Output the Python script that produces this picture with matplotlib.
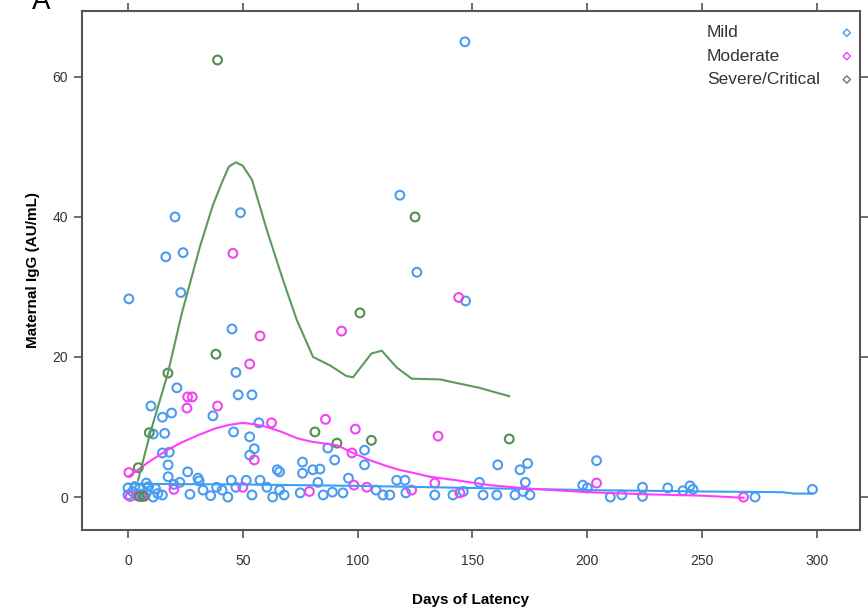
import matplotlib
matplotlib.use("Agg")
import matplotlib.pyplot as plt

plt.rcParams['font.family'] = ['Liberation Sans', 'DejaVu Sans']

# ---------------- data ----------------
groups = ["Mild", "Moderate", "Severe/Critical"]

mild_x = [0.4, 16.5, 20.5, 24, 23, 49, 45.3, 47, 48, 54, 118.4, 125.8, 146.7, 147,
          21.3, 10, 15, 19, 16, 11, 37, 46, 53, 57, 55, 53, 15, 18, 17.5, 17.5, 26, 30.5,
          65, 66, 76, 76, 80.5, 83.6, 87, 90, 103, 103, 96, 117, 120.6, 153, 161, 170.7,
          174, 173, 204,
          0, 0, 2, 3, 4, 8, 8, 11, 12, 15, 20, 22.6, 31, 32.7, 38.6, 43.5, 45, 47, 51.5,
          54, 57.5, 60.5, 63, 66, 68, 75, 82.7, 85, 89, 93.6, 108, 111, 114, 121, 133.6,
          141.5, 146, 154.6, 160.6, 168.5, 172, 175, 198, 200, 210, 215, 224, 224, 235,
          241.6, 244.7, 246, 273, 298, 5, 6, 9, 13, 27, 36, 41]
mild_y = [28.3, 34.3, 40, 34.9, 29.2, 40.6, 24, 17.8, 14.6, 14.6, 43.1, 32.1, 65, 28,
          15.6, 13, 11.4, 12, 9.1, 9, 11.6, 9.3, 8.6, 10.6, 6.9, 6, 6.3, 6.4, 4.6, 2.9, 3.6, 2.7,
          3.9, 3.6, 5, 3.4, 3.9, 4, 7, 5.3, 6.7, 4.6, 2.7, 2.4, 2.4, 2.1, 4.6, 3.9,
          4.8, 2.1, 5.2,
          1.3, 0.3, 0.8, 1.5, 0.2, 2, 0.6, 0, 1.2, 0.3, 1.8, 2.1, 2.3, 1, 1.4, 0, 2.4, 1.4, 2.4,
          0.3, 2.4, 1.4, 0, 1, 0.3, 0.6, 2.1, 0.3, 0.7, 0.6, 1, 0.3, 0.3, 0.6, 0.3,
          0.3, 0.8, 0.3, 0.3, 0.3, 0.8, 0.3, 1.7, 1.3, 0, 0.3, 1.4, 0.1, 1.3,
          0.9, 1.6, 1.1, 0, 1.1, 1.2, 0.4, 1.5, 0.5, 0.4, 0.2, 1.0]

mod_x = [45.7, 144, 57.5, 53, 93, 26, 28, 25.7, 39, 62.5, 86, 99, 135, 55, 97.5, 0.4,
         98.4, 104, 79, 50, 20, 1, 6, 123.5, 133.6, 144.5, 204, 268]
mod_y = [34.8, 28.5, 23, 19, 23.7, 14.3, 14.3, 12.7, 13, 10.6, 11.1, 9.7, 8.7, 5.3, 6.3, 3.5,
         1.7, 1.4, 0.8, 1.4, 1.1, 0.1, 0.1, 1, 2, 0.6, 2, 0]

sev_x = [39, 38.3, 17.4, 9.3, 4.5, 101, 81.4, 91, 106, 125, 166, 5, 7]
sev_y = [62.4, 20.4, 17.7, 9.2, 4.2, 26.3, 9.3, 7.7, 8.1, 40, 8.3, 0.1, 0.1]

# smoothed (loess) curves
mild_fit_x = [0, 50, 100, 150, 200, 250, 285, 290, 298]
mild_fit_y = [1.9, 1.8, 1.6, 1.3, 1.0, 0.8, 0.7, 0.5, 0.5]

mod_fit_x = [0.5, 9, 17, 24, 31, 38, 44, 50, 55, 60.5, 67, 73.6, 80, 91, 98, 105, 112, 118,
             125, 131.5, 143, 157.6, 175, 200, 225, 250, 268]
mod_fit_y = [3.0, 5.0, 6.7, 7.9, 8.9, 9.8, 10.3, 10.6, 10.4, 10.0, 9.3, 8.4, 7.9, 7.4, 6.3,
             5.3, 4.5, 3.9, 3.4, 2.9, 2.4, 1.7, 1.2, 0.7, 0.4, 0.2, -0.1]

sev_fit_x = [4.4, 10, 17.4, 23.5, 31.3, 37, 41.4, 44, 47, 50, 54, 60.5, 67.5, 73.5, 80.6, 88,
             95, 98, 102, 106, 110.5, 117, 123.6, 136, 140, 153, 166]
sev_fit_y = [2.4, 9.5, 17.7, 26.3, 35.7, 41.7, 45.3, 47.2, 47.8, 47.3, 45.3, 38.1, 31, 25.3,
             20, 18.8, 17.3, 17.1, 18.8, 20.5, 20.9, 18.5, 16.9, 16.8, 16.5, 15.6, 14.4]

x_ticks = [0, 50, 100, 150, 200, 250, 300]
y_ticks = [0, 20, 40, 60]

point_colors = ["#4a9cf2", "#f045f0", "#4f8f4f"]
line_colors = ["#3aa0f5", "#ff3cff", "#5c9a5c"]

# ---------------- figure ----------------
fig = plt.figure(figsize=(8.68, 6.10), dpi=100)
ax = fig.add_axes([82 / 868, 1 - 530 / 610, 778 / 868, 519 / 610])

series = [(mild_x, mild_y, mild_fit_x, mild_fit_y),
          (mod_x, mod_y, mod_fit_x, mod_fit_y),
          (sev_x, sev_y, sev_fit_x, sev_fit_y)]

for (px, py, fx, fy), pc, lc in zip(series, point_colors, line_colors):
    ax.scatter(px, py, s=40, facecolors="none", edgecolors=pc, linewidths=1.5, zorder=3)
for (px, py, fx, fy), pc, lc in zip(series, point_colors, line_colors):
    ax.plot(fx, fy, color=lc, lw=1.5, zorder=4)

ax.set_xlim(-20, 318.7)
ax.set_ylim(-4.7, 69.4)
ax.set_xticks(x_ticks)
ax.set_yticks(y_ticks)
ax.tick_params(axis="both", which="both", direction="out", length=6, width=1.2,
               color="#555555", labelcolor="#333333", labelsize=10,
               top=True, right=True, labeltop=False, labelright=False)
ax.tick_params(axis="x", pad=11)
ax.tick_params(axis="y", pad=4)
for sp in ax.spines.values():
    sp.set_color("#555555")
    sp.set_linewidth(1.5)

ax.set_xlabel("Days of Latency", fontsize=11, fontweight="bold", labelpad=18)
ax.set_ylabel("Maternal IgG (AU/mL)", fontsize=11, fontweight="bold")
ax.yaxis.set_label_coords(-0.054, 0.5)

# legend (lattice-style key: text then symbol)
key_y = [0.958, 0.913, 0.868]
for g, pc, ky in zip(groups, point_colors, key_y):
    ax.text(0.803, ky, g, transform=ax.transAxes, fontsize=12.5, color="#333333",
            va="center", ha="left")
    ax.scatter([0.983], [ky], marker="D", s=14, facecolors="none", edgecolors=pc,
               linewidths=1.0, transform=ax.transAxes, zorder=5, clip_on=False)

fig.text(0.037, 0.986, "A", fontsize=20, color="black", ha="left", va="baseline")

fig.savefig("out.png", dpi=100)
